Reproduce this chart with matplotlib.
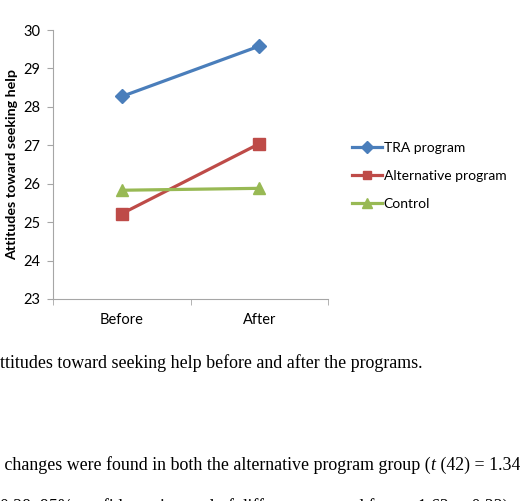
import matplotlib
matplotlib.use('Agg')
import matplotlib.pyplot as plt

# chart data
phases = ['Before', 'After']
tra_program = [28.27, 29.58]
alternative_program = [25.22, 27.04]
control = [25.83, 25.88]
y_ticks = [23, 24, 25, 26, 27, 28, 29, 30]

caption = 'ttitudes toward seeking help before and after the programs.'
body_line1 = ' changes were found in both the alternative program group ('
body_line1_tail = ' (42) = 1.34'
body_line2 = '0.28, 95% confidence interval of difference ranged from \u22121.62 to 0.22).'

fig = plt.figure(figsize=(5.2, 5.01), dpi=100)
ax = fig.add_axes([53 / 520, 1 - 299 / 501, 275 / 520, 269 / 501])

ui_font = 'Lato'
x = list(range(len(phases)))
ax.plot(x, tra_program, color='#4A7EBB', lw=2.3, marker='D', ms=7.5, label='TRA program')
ax.plot(x, alternative_program, color='#BE4B48', lw=2.3, marker='s', ms=8.5, label='Alternative program')
ax.plot(x, control, color='#98B954', lw=2.3, marker='^', ms=9, label='Control')

ax.set_xlim(-0.5, 1.5)
ax.set_ylim(23, 30)
ax.set_yticks(y_ticks)
ax.set_xticks(x)
ax.set_xticklabels(phases)
ax.set_xticks([-0.5, 0.5, 1.5], minor=True)
ax.tick_params(axis='x', which='major', length=0, pad=10)
ax.tick_params(axis='x', which='minor', length=4, color='#A6A6A6', direction='out')
ax.tick_params(axis='y', length=4, color='#A6A6A6', direction='out', pad=5)
for lbl in ax.get_xticklabels() + ax.get_yticklabels():
    lbl.set_fontfamily(ui_font)
    lbl.set_fontsize(10.5)
for side in ['top', 'right']:
    ax.spines[side].set_visible(False)
for side in ['left', 'bottom']:
    ax.spines[side].set_color('#A6A6A6')
ax.set_ylabel('Attitudes toward seeking help', fontfamily=ui_font, fontweight='bold',
              fontsize=10.3, labelpad=4)

fig.legend(loc='upper left', bbox_to_anchor=(346 / 520, 1 - 136 / 501), frameon=False,
           prop={'family': ui_font, 'size': 10}, handlelength=2.2, handletextpad=0.1,
           labelspacing=1.15, borderaxespad=0, markerscale=0.75)

serif = 'Liberation Serif'
fs = 12.9
fig.text(0, 1 - 368 / 501, caption, fontfamily=serif, fontsize=fs, va='baseline')

# body line with italic t, placed piece by piece
renderer = fig.canvas.get_renderer()
y1 = 1 - 470 / 501
part1 = fig.text(0, y1, body_line1, fontfamily=serif, fontsize=fs, va='baseline')
x_end = part1.get_window_extent(renderer).x1 / fig.bbox.width
part2 = fig.text(x_end, y1, 't', fontfamily=serif, fontstyle='italic', fontsize=fs, va='baseline')
x_end = part2.get_window_extent(renderer).x1 / fig.bbox.width
fig.text(x_end, y1, body_line1_tail, fontfamily=serif, fontsize=fs, va='baseline')

# last line is cut by the bottom edge, as in the reference crop
fig.text(0, 1 - 512 / 501, body_line2, fontfamily=serif, fontsize=fs, va='baseline')

fig.savefig('out.png', dpi=100)
